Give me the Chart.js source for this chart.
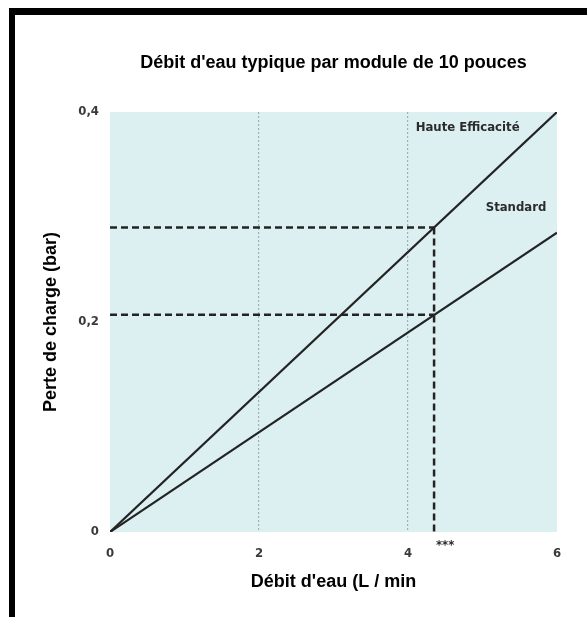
<!DOCTYPE html>
<html>
<head>
<meta charset="utf-8">
<script src="https://cdn.jsdelivr.net/npm/chart.js@4"></script>
<style>
  html, body { margin: 0; padding: 0; background: #fff; }
  #wrap { position: relative; width: 587px; height: 617px; overflow: hidden; }
  #frame { position: absolute; left: 9px; top: 8px; width: 600px; height: 640px;
           border-top: 7px solid #000; border-left: 6px solid #000; pointer-events: none; }
</style>
</head>
<body>
<div id="wrap">
  <canvas id="c" width="587" height="617"></canvas>
  <div id="frame"></div>
</div>
<script>
// ---- data ----
const flowLpm = [0, 6];                 // Débit d'eau (L / min)
const hauteEfficacite = [0, 0.4];       // Perte de charge (bar)
const standard = [0, 0.285];
const refFlow = 4.35;                   // dashed reading line
const refHE = 0.29;
const refStd = 0.207;
const xTickValues = [0, 2, 4, 6];
const yTickValues = [0, 0.2, 0.4];
const yTickLabels = ['0', '0,2', '0,4'];
const seriesNames = ['Haute Efficacité', 'Standard'];
const labelAnchors = [[4.8, 0.385], [5.45, 0.309]];

const ink = '#232323';
const toPts = (xs, ys) => xs.map((x, i) => ({ x: x, y: ys[i] }));
const titleFont = { family: '"Liberation Sans", Arial, sans-serif', size: 18, weight: 'bold', lineHeight: 1.2 };

const bgPlugin = {
  id: 'plotBg',
  beforeDraw(chart) {
    const { ctx, chartArea: a } = chart;
    ctx.save();
    ctx.fillStyle = '#dcf0f2';
    ctx.fillRect(a.left, a.top, a.right - a.left, a.bottom - a.top);
    ctx.restore();
  }
};

const textPlugin = {
  id: 'lineLabels',
  afterDatasetsDraw(chart) {
    const { ctx, scales: { x, y } } = chart;
    ctx.save();
    ctx.fillStyle = '#2b2b2b';
    ctx.textAlign = 'center';
    ctx.textBaseline = 'middle';
    ctx.font = 'bold 13px "DejaVu Sans Condensed", "DejaVu Sans", sans-serif';
    seriesNames.forEach((n, i) => {
      ctx.fillText(n, x.getPixelForValue(labelAnchors[i][0]), y.getPixelForValue(labelAnchors[i][1]));
    });
    ctx.font = 'bold 13px "DejaVu Sans Condensed", sans-serif';
    ctx.fillText('***', x.getPixelForValue(refFlow) + 11, y.getPixelForValue(0) + 14);
    ctx.restore();
  }
};

const dashed = { borderColor: ink, borderWidth: 2.5, borderDash: [7, 4], pointRadius: 0, showLine: true, fill: false };

new Chart(document.getElementById('c'), {
  type: 'scatter',
  data: {
    datasets: [
      { label: seriesNames[0], data: toPts(flowLpm, hauteEfficacite), borderColor: ink, borderWidth: 2.2, pointRadius: 0, showLine: true },
      { label: seriesNames[1], data: toPts(flowLpm, standard), borderColor: ink, borderWidth: 2.2, pointRadius: 0, showLine: true },
      Object.assign({ data: [{ x: 0, y: refHE }, { x: refFlow, y: refHE }] }, dashed),
      Object.assign({ data: [{ x: 0, y: refStd }, { x: refFlow, y: refStd }] }, dashed),
      Object.assign({ data: [{ x: refFlow, y: refHE }, { x: refFlow, y: 0 }] }, dashed)
    ]
  },
  options: {
    responsive: false,
    animation: false,
    layout: { padding: { left: 0, right: 30, top: 0, bottom: 0 } },
    plugins: {
      legend: { display: false },
      tooltip: { enabled: false },
      title: {
        display: true,
        fullSize: false,
        text: "Débit d'eau typique par module de 10 pouces",
        color: '#000',
        font: titleFont,
        padding: { top: 52, bottom: 38.4 }
      }
    },
    scales: {
      x: {
        type: 'linear', min: 0, max: 6,
        afterBuildTicks: s => { s.ticks = xTickValues.map(v => ({ value: v })); },
        afterFit: s => { s.height = 85; },
        ticks: { color: '#3a3a3a', padding: 14, font: { family: '"DejaVu Sans Condensed", sans-serif', size: 13, weight: 'bold' } },
        grid: {
          drawTicks: false,
          color: c => (c.tick && (c.tick.value === 2 || c.tick.value === 4)) ? '#a3b0b2' : 'rgba(0,0,0,0)',
          lineWidth: 1.2
        },
        border: { display: false, dash: [2, 2] },
        title: {
          display: true, text: "Débit d'eau (L / min", color: '#000',
          font: titleFont,
          padding: { top: 0, bottom: 24 }
        }
      },
      y: {
        type: 'linear', min: 0, max: 0.4,
        afterBuildTicks: s => { s.ticks = yTickValues.map(v => ({ value: v })); },
        afterFit: s => { s.width = 110; },
        ticks: {
          color: '#3a3a3a', padding: 11,
          font: { family: '"DejaVu Sans Condensed", sans-serif', size: 13, weight: 'bold' },
          callback: (v) => yTickLabels[yTickValues.indexOf(v)]
        },
        grid: { display: false, drawTicks: false },
        border: { display: false },
        title: {
          display: true, text: 'Perte de charge (bar)', color: '#000',
          font: titleFont,
          padding: { top: 40, bottom: 0 }
        }
      }
    }
  },
  plugins: [bgPlugin, textPlugin]
});
</script>
</body>
</html>
